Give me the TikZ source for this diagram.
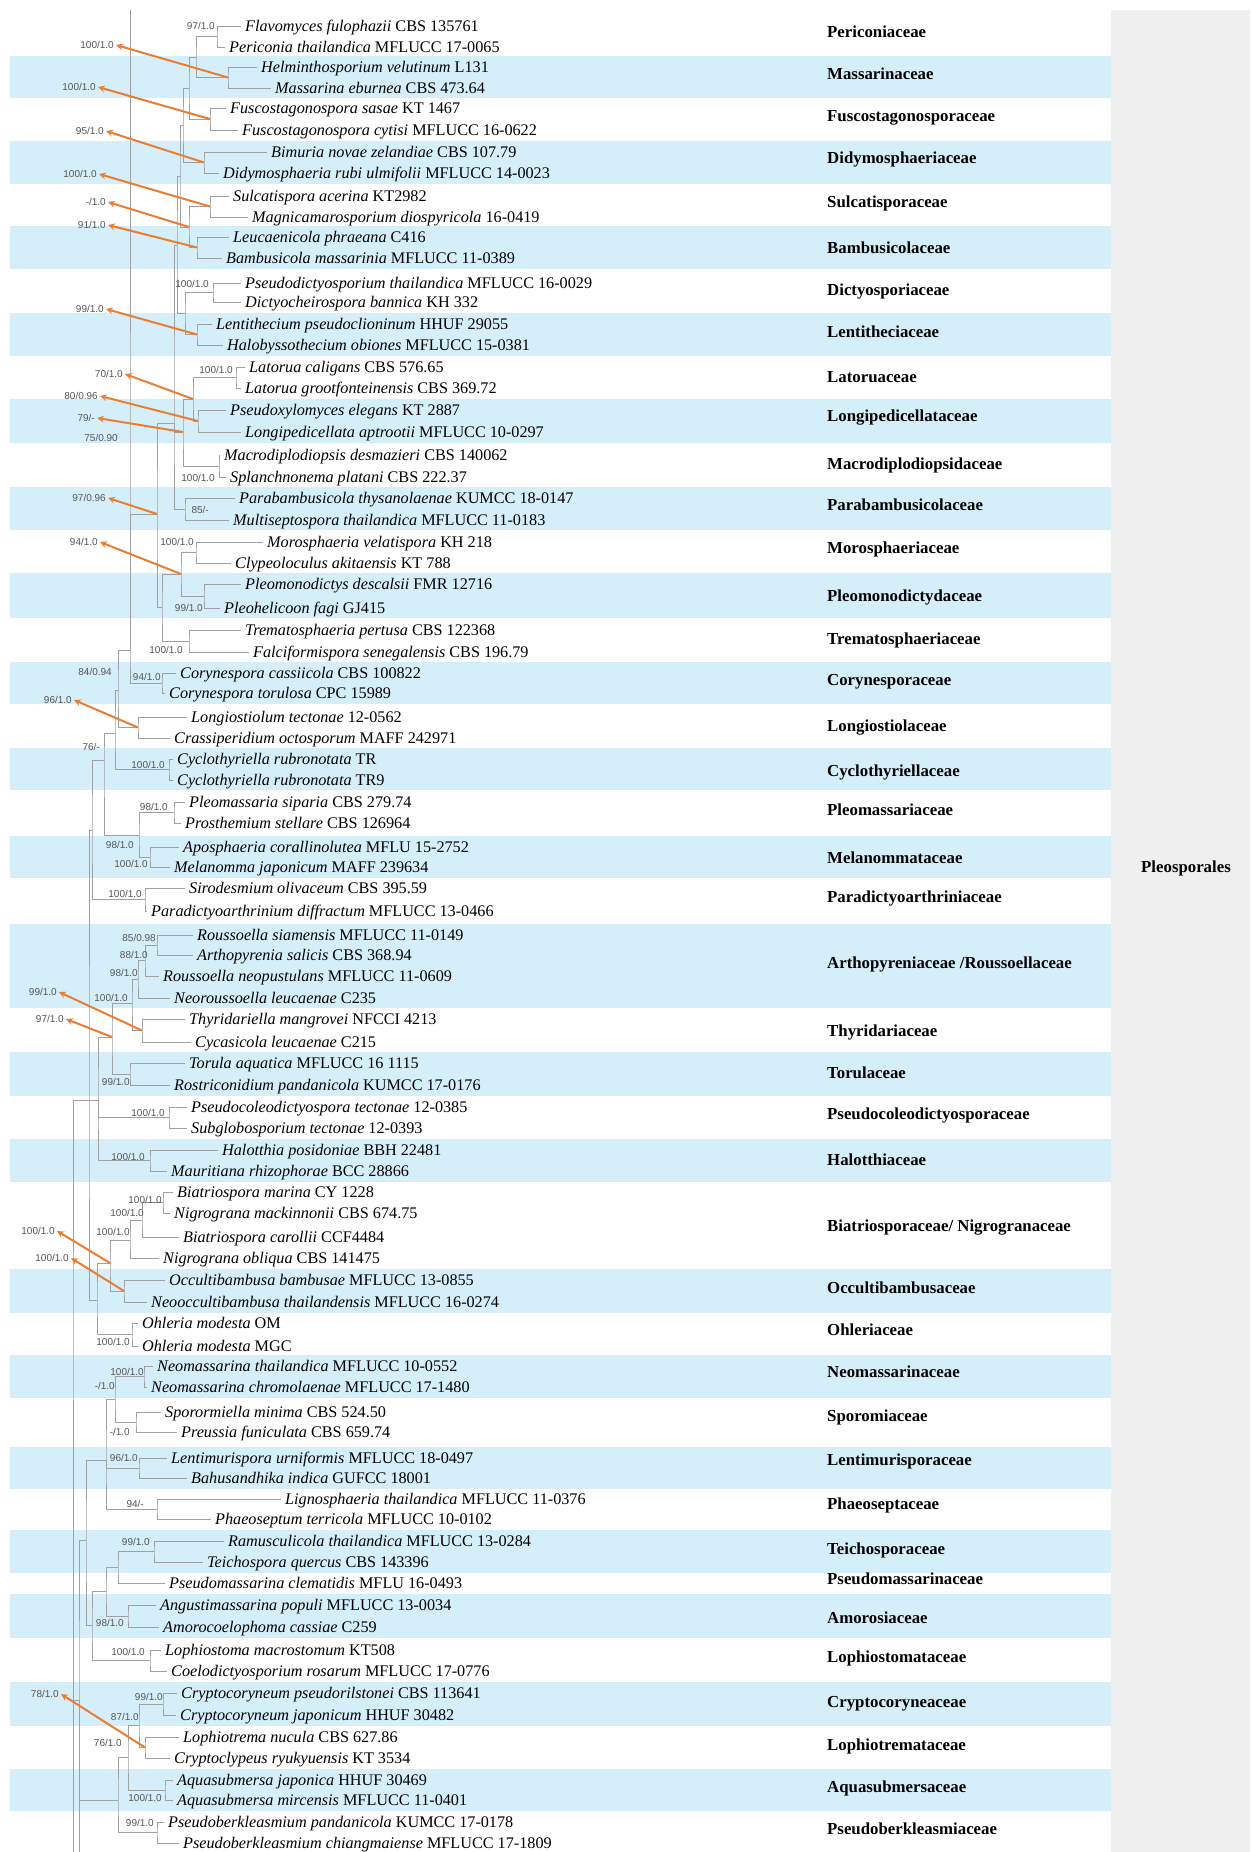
\documentclass[tikz,border=0pt]{standalone}
\usepackage{fontspec}
\setmainfont{Liberation Serif}
\setsansfont{Liberation Sans}
\definecolor{bandblue}{RGB}{213,239,250}
\definecolor{panelgray}{RGB}{239,239,239}
\definecolor{treegray}{RGB}{160,160,160}
\definecolor{supgray}{RGB}{85,85,85}
\definecolor{arrorange}{RGB}{235,125,50}
\begin{document}
\begin{tikzpicture}[x=1pt,y=-1pt,>=stealth,
	taxon/.style={anchor=west,inner xsep=4pt,inner ysep=0pt,text height=14pt,text depth=3.5pt,font=\fontsize{16.2}{18}\selectfont},
	fam/.style={anchor=west,inner sep=0pt,text height=10pt,text depth=1.5pt,font=\fontsize{16.8}{19}\selectfont\bfseries},
	sup/.style={anchor=east,inner xsep=2pt,inner ysep=0pt,text height=7pt,text depth=0pt,text=supgray,font=\sffamily\fontsize{10}{11}\selectfont},
	band/.style={fill=bandblue},
	branch/.style={draw=treegray,line width=0.8pt},
	pointer/.style={->,draw=arrorange,line width=2pt}]
	\useasboundingbox (0,0) rectangle (1250,1852);
	\fill[panelgray] (1111,10) rectangle (1250,1852);
	\fill[band] (10,56) rectangle (1111,98);
	\fill[band] (10,141) rectangle (1111,184);
	\fill[band] (10,226) rectangle (1111,269);
	\fill[band] (10,313) rectangle (1111,356);
	\fill[band] (10,399) rectangle (1111,443);
	\fill[band] (10,487) rectangle (1111,530);
	\fill[band] (10,573) rectangle (1111,618);
	\fill[band] (10,662) rectangle (1111,704);
	\fill[band] (10,748) rectangle (1111,790);
	\fill[band] (10,836) rectangle (1111,878);
	\fill[band] (10,924) rectangle (1111,1008);
	\fill[band] (10,1052) rectangle (1111,1096);
	\fill[band] (10,1139) rectangle (1111,1182);
	\fill[band] (10,1269) rectangle (1111,1313);
	\fill[band] (10,1355) rectangle (1111,1398);
	\fill[band] (10,1447) rectangle (1111,1489);
	\fill[band] (10,1530) rectangle (1111,1573);
	\fill[band] (10,1594) rectangle (1111,1638);
	\fill[band] (10,1682) rectangle (1111,1726);
	\fill[band] (10,1769) rectangle (1111,1811);

	\node[taxon] (t1) at (241,26) {\textit{Flavomyces fulophazii} CBS 135761};
	\node[taxon] (t2) at (225,47) {\textit{Periconia thailandica} MFLUCC 17-0065};
	\node[taxon] (t3) at (257,67) {\textit{Helminthosporium velutinum} L131};
	\node[taxon] (t4) at (271,88) {\textit{Massarina eburnea} CBS 473.64};
	\node[taxon] (t5) at (226,108) {\textit{Fuscostagonospora sasae} KT 1467};
	\node[taxon] (t6) at (238,130) {\textit{Fuscostagonospora cytisi} MFLUCC 16-0622};
	\node[taxon] (t7) at (267,152) {\textit{Bimuria novae zelandiae} CBS 107.79};
	\node[taxon] (t8) at (219,173) {\textit{Didymosphaeria rubi ulmifolii} MFLUCC 14-0023};
	\node[taxon] (t9) at (229,196) {\textit{Sulcatispora acerina} KT2982};
	\node[taxon] (t10) at (248,217) {\textit{Magnicamarosporium diospyricola} 16-0419};
	\node[taxon] (t11) at (229,237) {\textit{Leucaenicola phraeana} C416};
	\node[taxon] (t12) at (222,258) {\textit{Bambusicola massarinia} MFLUCC 11-0389};
	\node[taxon] (t13) at (241,283) {\textit{Pseudodictyosporium thailandica} MFLUCC 16-0029};
	\node[taxon] (t14) at (241,302) {\textit{Dictyocheirospora bannica} KH 332};
	\node[taxon] (t15) at (212,324) {\textit{Lentithecium pseudoclioninum} HHUF 29055};
	\node[taxon] (t16) at (223,345) {\textit{Halobyssothecium obiones} MFLUCC 15-0381};
	\node[taxon] (t17) at (245,367) {\textit{Latorua caligans} CBS 576.65};
	\node[taxon] (t18) at (241,388) {\textit{Latorua grootfonteinensis} CBS 369.72};
	\node[taxon] (t19) at (226,410) {\textit{Pseudoxylomyces elegans} KT 2887};
	\node[taxon] (t20) at (241,432) {\textit{Longipedicellata aptrootii} MFLUCC 10-0297};
	\node[taxon] (t21) at (220,455) {\textit{Macrodiplodiopsis desmazieri} CBS 140062};
	\node[taxon] (t22) at (226,477) {\textit{Splanchnonema platani} CBS 222.37};
	\node[taxon] (t23) at (235,498) {\textit{Parabambusicola thysanolaenae} KUMCC 18-0147};
	\node[taxon] (t24) at (229,520) {\textit{Multiseptospora thailandica} MFLUCC 11-0183};
	\node[taxon] (t25) at (263,542) {\textit{Morosphaeria velatispora} KH 218};
	\node[taxon] (t26) at (231,563) {\textit{Clypeoloculus akitaensis} KT 788};
	\node[taxon] (t27) at (241,584) {\textit{Pleomonodictys descalsii} FMR 12716};
	\node[taxon] (t28) at (220,608) {\textit{Pleohelicoon fagi} GJ415};
	\node[taxon] (t29) at (241,630) {\textit{Trematosphaeria pertusa} CBS 122368};
	\node[taxon] (t30) at (249,652) {\textit{Falciformispora senegalensis} CBS 196.79};
	\node[taxon] (t31) at (176,673) {\textit{Corynespora cassiicola} CBS 100822};
	\node[taxon] (t32) at (165,693) {\textit{Corynespora torulosa} CPC 15989};
	\node[taxon] (t33) at (187,717) {\textit{Longiostiolum tectonae} 12-0562};
	\node[taxon] (t34) at (170,738) {\textit{Crassiperidium octosporum} MAFF 242971};
	\node[taxon] (t35) at (173,759) {\textit{Cyclothyriella rubronotata} TR};
	\node[taxon] (t36) at (173,780) {\textit{Cyclothyriella rubronotata} TR9};
	\node[taxon] (t37) at (185,802) {\textit{Pleomassaria siparia} CBS 279.74};
	\node[taxon] (t38) at (181,823) {\textit{Prosthemium stellare} CBS 126964};
	\node[taxon] (t39) at (179,847) {\textit{Aposphaeria corallinolutea} MFLU 15-2752};
	\node[taxon] (t40) at (170,867) {\textit{Melanomma japonicum} MAFF 239634};
	\node[taxon] (t41) at (185,888) {\textit{Sirodesmium olivaceum} CBS 395.59};
	\node[taxon] (t42) at (147,911) {\textit{Paradictyoarthrinium diffractum} MFLUCC 13-0466};
	\node[taxon] (t43) at (193,935) {\textit{Roussoella siamensis} MFLUCC 11-0149};
	\node[taxon] (t44) at (193,955) {\textit{Arthopyrenia salicis} CBS 368.94};
	\node[taxon] (t45) at (159,976) {\textit{Roussoella neopustulans} MFLUCC 11-0609};
	\node[taxon] (t46) at (170,998) {\textit{Neoroussoella leucaenae} C235};
	\node[taxon] (t47) at (185,1019) {\textit{Thyridariella mangrovei} NFCCI 4213};
	\node[taxon] (t48) at (191,1042) {\textit{Cycasicola leucaenae} C215};
	\node[taxon] (t49) at (185,1063) {\textit{Torula aquatica} MFLUCC 16 1115};
	\node[taxon] (t50) at (170,1085) {\textit{Rostriconidium pandanicola} KUMCC 17-0176};
	\node[taxon] (t51) at (187,1107) {\textit{Pseudocoleodictyospora tectonae} 12-0385};
	\node[taxon] (t52) at (187,1128) {\textit{Subglobosporium tectonae} 12-0393};
	\node[taxon] (t53) at (218,1150) {\textit{Halotthia posidoniae} BBH 22481};
	\node[taxon] (t54) at (167,1171) {\textit{Mauritiana rhizophorae} BCC 28866};
	\node[taxon] (t55) at (173,1192) {\textit{Biatriospora marina} CY 1228};
	\node[taxon] (t56) at (170,1213) {\textit{Nigrograna mackinnonii} CBS 674.75};
	\node[taxon] (t57) at (179,1237) {\textit{Biatriospora carollii} CCF4484};
	\node[taxon] (t58) at (159,1258) {\textit{Nigrograna obliqua} CBS 141475};
	\node[taxon] (t59) at (165,1280) {\textit{Occultibambusa bambusae} MFLUCC 13-0855};
	\node[taxon] (t60) at (147,1302) {\textit{Neooccultibambusa thailandensis} MFLUCC 16-0274};
	\node[taxon] (t61) at (138,1323) {\textit{Ohleria modesta} OM};
	\node[taxon] (t62) at (138,1346) {\textit{Ohleria modesta} MGC};
	\node[taxon] (t63) at (153,1366) {\textit{Neomassarina thailandica} MFLUCC 10-0552};
	\node[taxon] (t64) at (147,1387) {\textit{Neomassarina chromolaenae} MFLUCC 17-1480};
	\node[taxon] (t65) at (161,1412) {\textit{Sporormiella minima} CBS 524.50};
	\node[taxon] (t66) at (177,1432) {\textit{Preussia funiculata} CBS 659.74};
	\node[taxon] (t67) at (167,1458) {\textit{Lentimurispora urniformis} MFLUCC 18-0497};
	\node[taxon] (t68) at (187,1478) {\textit{Bahusandhika indica} GUFCC 18001};
	\node[taxon] (t69) at (281,1499) {\textit{Lignosphaeria thailandica} MFLUCC 11-0376};
	\node[taxon] (t70) at (211,1519) {\textit{Phaeoseptum terricola} MFLUCC 10-0102};
	\node[taxon] (t71) at (224,1541) {\textit{Ramusculicola thailandica} MFLUCC 13-0284};
	\node[taxon] (t72) at (203,1562) {\textit{Teichospora quercus} CBS 143396};
	\node[taxon] (t73) at (165,1583) {\textit{Pseudomassarina clematidis} MFLU 16-0493};
	\node[taxon] (t74) at (156,1605) {\textit{Angustimassarina populi} MFLUCC 13-0034};
	\node[taxon] (t75) at (159,1627) {\textit{Amorocoelophoma cassiae} C259};
	\node[taxon] (t76) at (161,1650) {\textit{Lophiostoma macrostomum} KT508};
	\node[taxon] (t77) at (167,1671) {\textit{Coelodictyosporium rosarum} MFLUCC 17-0776};
	\node[taxon] (t78) at (177,1693) {\textit{Cryptocoryneum pseudorilstonei} CBS 113641};
	\node[taxon] (t79) at (176,1715) {\textit{Cryptocoryneum japonicum} HHUF 30482};
	\node[taxon] (t80) at (179,1737) {\textit{Lophiotrema nucula} CBS 627.86};
	\node[taxon] (t81) at (170,1758) {\textit{Cryptoclypeus ryukyuensis} KT 3534};
	\node[taxon] (t82) at (173,1780) {\textit{Aquasubmersa japonica} HHUF 30469};
	\node[taxon] (t83) at (173,1800) {\textit{Aquasubmersa mircensis} MFLUCC 11-0401};
	\node[taxon] (t84) at (164,1822) {\textit{Pseudoberkleasmium pandanicola} KUMCC 17-0178};
	\node[taxon] (t85) at (179,1843) {\textit{Pseudoberkleasmium chiangmaiense} MFLUCC 17-1809};

	\coordinate (P1) at (217,36.5);
	\coordinate (M1) at (228,77.5);
	\coordinate (PM) at (196,57);
	\coordinate (F1) at (210,119);
	\coordinate (X1) at (189,88);
	\coordinate (D1) at (204,162.5);
	\coordinate (X2) at (183,125);
	\coordinate (S1) at (210,206.5);
	\coordinate (B1) at (197,247.5);
	\coordinate (SB) at (189,227);
	\coordinate (X3) at (180,176);
	\coordinate (Dy1) at (213,292.5);
	\coordinate (L1) at (197,334.5);
	\coordinate (DL) at (185,313.5);
	\coordinate (X4) at (177,245);
	\coordinate (La1) at (236,377.5);
	\coordinate (Lo1) at (198,421);
	\coordinate (N63) at (193,399);
	\coordinate (Ma1) at (219,466);
	\coordinate (N79) at (183,432);
	\coordinate (Pa1) at (185,509);
	\coordinate (X5) at (174,423);
	\coordinate (Mo1) at (196,552.5);
	\coordinate (Pm1) at (204,596);
	\coordinate (MoPm) at (181,574);
	\coordinate (Tr1) at (189,641);
	\coordinate (N137) at (162,607);
	\coordinate (N133) at (157,514);
	\coordinate (Co1) at (162,683);
	\coordinate (top) at (130,10);
	\coordinate (N110) at (130,650);
	\coordinate (Lg1) at (138,727.5);
	\coordinate (N100) at (118,690);
	\coordinate (Cy1) at (169,769.5);
	\coordinate (N97) at (115,733);
	\coordinate (Pl1) at (174,812.5);
	\coordinate (Me1) at (150,857);
	\coordinate (PlMe) at (139,835);
	\coordinate (N88) at (104,760);
	\coordinate (Si1) at (145,899.5);
	\coordinate (N78) at (92,830);
	\coordinate (R1) at (157,945);
	\coordinate (R2) at (145,960.5);
	\coordinate (R3) at (138,979);
	\coordinate (Th1) at (142,1030.5);
	\coordinate (RT) at (132,1003);
	\coordinate (To1) at (130,1074);
	\coordinate (N95) at (112,1037);
	\coordinate (Ps1) at (169,1117.5);
	\coordinate (Ha1) at (150,1160.5);
	\coordinate (N83) at (98,1100);
	\coordinate (Bi1) at (163,1202.5);
	\coordinate (Bi2) at (142,1220);
	\coordinate (Bi3) at (130,1240);
	\coordinate (Oc1) at (124,1291);
	\coordinate (BO) at (110,1263);
	\coordinate (Oh1) at (132,1334.5);
	\coordinate (N82) at (97,1300);
	\coordinate (N75) at (89,1100);
	\coordinate (Ne1) at (144,1376.5);
	\coordinate (Sp1) at (136,1422);
	\coordinate (N97b) at (115,1399);
	\coordinate (Le1) at (139,1468);
	\coordinate (Ph1) at (157,1509);
	\coordinate (N90) at (106,1460);
	\coordinate (Te1) at (154,1551.5);
	\coordinate (TeP) at (118,1567);
	\coordinate (Am1) at (128,1616);
	\coordinate (N90b) at (106,1591);
	\coordinate (Lp1) at (150,1660.5);
	\coordinate (N78b) at (92,1625);
	\coordinate (N73) at (86,1540);
	\coordinate (Cr1) at (163,1704);
	\coordinate (Lt1) at (145,1747.5);
	\coordinate (Cr2) at (139,1725);
	\coordinate (Aq1) at (165,1790);
	\coordinate (N108) at (128,1757);
	\coordinate (Pb1) at (157,1832.5);
	\coordinate (N100b) at (118,1800);
	\coordinate (N67) at (79,1700);
	\coordinate (endA) at (79,1852);
	\coordinate (N62) at (73,1400);
	\coordinate (endB) at (73,1852);

	\draw[branch] (t1.west) -| (P1) |- (t2.west);
	\draw[branch] (t3.west) -| (M1) |- (t4.west);
	\draw[branch] (P1) -| (PM) |- (M1);
	\draw[branch] (t5.west) -| (F1) |- (t6.west);
	\draw[branch] (PM) -| (X1) |- (F1);
	\draw[branch] (t7.west) -| (D1) |- (t8.west);
	\draw[branch] (X1) -| (X2) |- (D1);
	\draw[branch] (t9.west) -| (S1) |- (t10.west);
	\draw[branch] (t11.west) -| (B1) |- (t12.west);
	\draw[branch] (S1) -| (SB) |- (B1);
	\draw[branch] (X2) -| (X3) |- (SB);
	\draw[branch] (t13.west) -| (Dy1) |- (t14.west);
	\draw[branch] (t15.west) -| (L1) |- (t16.west);
	\draw[branch] (Dy1) -| (DL) |- (L1);
	\draw[branch] (X3) -| (X4) |- (DL);
	\draw[branch] (t17.west) -| (La1) |- (t18.west);
	\draw[branch] (t19.west) -| (Lo1) |- (t20.west);
	\draw[branch] (La1) -| (N63) |- (Lo1);
	\draw[branch] (t21.west) -| (Ma1) |- (t22.west);
	\draw[branch] (N63) -| (N79) |- (Ma1);
	\draw[branch] (t23.west) -| (Pa1) |- (t24.west);
	\draw[branch] (X4) -| (X5) |- (Pa1) (X5) |- (N79);
	\draw[branch] (t25.west) -| (Mo1) |- (t26.west);
	\draw[branch] (t27.west) -| (Pm1) |- (t28.west);
	\draw[branch] (Mo1) -| (MoPm) |- (Pm1);
	\draw[branch] (t29.west) -| (Tr1) |- (t30.west);
	\draw[branch] (MoPm) -| (N137) |- (Tr1);
	\draw[branch] (X5) -| (N133) |- (N137);
	\draw[branch] (t31.west) -| (Co1) |- (t32.west);
	\draw[branch] (top) -| (N110) |- (Co1) (N110) |- (N133);
	\draw[branch] (t33.west) -| (Lg1) |- (t34.west);
	\draw[branch] (N110) -| (N100) |- (Lg1);
	\draw[branch] (t35.west) -| (Cy1) |- (t36.west);
	\draw[branch] (N100) -| (N97) |- (Cy1);
	\draw[branch] (t37.west) -| (Pl1) |- (t38.west);
	\draw[branch] (t39.west) -| (Me1) |- (t40.west);
	\draw[branch] (Pl1) -| (PlMe) |- (Me1);
	\draw[branch] (N97) -| (N88) |- (PlMe);
	\draw[branch] (t41.west) -| (Si1) |- (t42.west);
	\draw[branch] (N88) -| (N78) |- (Si1);
	\draw[branch] (t43.west) -| (R1) |- (t44.west);
	\draw[branch] (R1) -| (R2) |- (t45.west);
	\draw[branch] (R2) -| (R3) |- (t46.west);
	\draw[branch] (t47.west) -| (Th1) |- (t48.west);
	\draw[branch] (R3) -| (RT) |- (Th1);
	\draw[branch] (t49.west) -| (To1) |- (t50.west);
	\draw[branch] (RT) -| (N95) |- (To1);
	\draw[branch] (t51.west) -| (Ps1) |- (t52.west);
	\draw[branch] (t53.west) -| (Ha1) |- (t54.west);
	\draw[branch] (N95) -| (N83) |- (Ha1) (N83) |- (Ps1);
	\draw[branch] (t55.west) -| (Bi1) |- (t56.west);
	\draw[branch] (Bi1) -| (Bi2) |- (t57.west);
	\draw[branch] (Bi2) -| (Bi3) |- (t58.west);
	\draw[branch] (t59.west) -| (Oc1) |- (t60.west);
	\draw[branch] (Bi3) -| (BO) |- (Oc1);
	\draw[branch] (t61.west) -| (Oh1) |- (t62.west);
	\draw[branch] (BO) -| (N82) |- (Oh1);
	\draw[branch] (N78) -| (N75) |- (N82) (N75) |- (N83);
	\draw[branch] (t63.west) -| (Ne1) |- (t64.west);
	\draw[branch] (t65.west) -| (Sp1) |- (t66.west);
	\draw[branch] (Ne1) -| (N97b) |- (Sp1);
	\draw[branch] (t67.west) -| (Le1) |- (t68.west);
	\draw[branch] (t69.west) -| (Ph1) |- (t70.west);
	\draw[branch] (N97b) -| (N90) |- (Ph1) (N90) |- (Le1);
	\draw[branch] (t71.west) -| (Te1) |- (t72.west);
	\draw[branch] (Te1) -| (TeP) |- (t73.west);
	\draw[branch] (t74.west) -| (Am1) |- (t75.west);
	\draw[branch] (TeP) -| (N90b) |- (Am1);
	\draw[branch] (t76.west) -| (Lp1) |- (t77.west);
	\draw[branch] (N90b) -| (N78b) |- (Lp1);
	\draw[branch] (N90) -| (N73) |- (N78b);
	\draw[branch] (t78.west) -| (Cr1) |- (t79.west);
	\draw[branch] (t80.west) -| (Lt1) |- (t81.west);
	\draw[branch] (Cr1) -| (Cr2) |- (Lt1);
	\draw[branch] (t82.west) -| (Aq1) |- (t83.west);
	\draw[branch] (Cr2) -| (N108) |- (Aq1);
	\draw[branch] (t84.west) -| (Pb1) |- (t85.west);
	\draw[branch] (N108) -| (N100b) |- (Pb1);
	\draw[branch] (N73) -| (N67) |- (N100b) (N67) |- (endA);
	\draw[branch] (N75) -| (N62) |- (N67) (N62) |- (endB);

	\node[sup] (sP1) at (217,26) {97/1.0};
	\node[sup] (sDy1) at (211,284) {100/1.0};
	\node[sup] (sLa1) at (235,370) {100/1.0};
	\node[sup] (sMa1) at (217,478) {100/1.0};
	\node[sup] (sPa1) at (211,510) {85/-};
	\node[sup] (sX5) at (120,438) {75/0.90};
	\node[sup] (sMo1) at (196,542) {100/1.0};
	\node[sup] (sPm1) at (205,608) {99/1.0};
	\node[sup] (sTr1) at (185,650) {100/1.0};
	\node[sup] (sCo1) at (163,677) {94/1.0};
	\node[sup] (sN100) at (114,672) {84/0.94};
	\node[sup] (sCy1) at (167,765) {100/1.0};
	\node[sup] (sN88) at (102,747) {76/-};
	\node[sup] (sPl1) at (170,807) {98/1.0};
	\node[sup] (sPlMe) at (136,845) {98/1.0};
	\node[sup] (sMe1) at (150,864) {100/1.0};
	\node[sup] (sSi1) at (144,894) {100/1.0};
	\node[sup] (sR1) at (158,938) {85/0.98};
	\node[sup] (sR2) at (150,955) {88/1.0};
	\node[sup] (sR3) at (140,973) {98/1.0};
	\node[sup] (sRT) at (130,998) {100/1.0};
	\node[sup] (sTo1) at (132,1082) {99/1.0};
	\node[sup] (sPs1) at (167,1113) {100/1.0};
	\node[sup] (sHa1) at (147,1157) {100/1.0};
	\node[sup] (sBi1) at (164,1200) {100/1.0};
	\node[sup] (sBi2) at (146,1213) {100/1.0};
	\node[sup] (sBi3) at (132,1232) {100/1.0};
	\node[sup] (sOh1) at (132,1342) {100/1.0};
	\node[sup] (sNe1) at (146,1372) {100/1.0};
	\node[sup] (sN97b) at (117,1386) {-/1.0};
	\node[sup] (sSp1) at (132,1432) {-/1.0};
	\node[sup] (sLe1) at (140,1458) {96/1.0};
	\node[sup] (sPh1) at (146,1504) {94/-};
	\node[sup] (sTe1) at (152,1542) {99/1.0};
	\node[sup] (sAm1) at (126,1623) {98/1.0};
	\node[sup] (sLp1) at (147,1652) {100/1.0};
	\node[sup] (sCr1) at (165,1697) {99/1.0};
	\node[sup] (sCr2) at (141,1717) {87/1.0};
	\node[sup] (sN108) at (124,1743) {76/1.0};
	\node[sup] (sAq1) at (164,1798) {100/1.0};
	\node[sup] (sPb1) at (156,1823) {99/1.0};

	\node[sup] (aM1) at (116,45) {100/1.0};
	\node[sup] (aF1) at (98,87) {100/1.0};
	\node[sup] (aD1) at (106,131) {95/1.0};
	\node[sup] (aS1) at (99,174) {100/1.0};
	\node[sup] (aSB) at (108,202) {-/1.0};
	\node[sup] (aB1) at (108,225) {91/1.0};
	\node[sup] (aL1) at (106,309) {99/1.0};
	\node[sup] (aN63) at (125,374) {70/1.0};
	\node[sup] (aLo1) at (100,396) {80/0.96};
	\node[sup] (aN79) at (97,418) {79/-};
	\node[sup] (aN133) at (108,498) {97/0.96};
	\node[sup] (aMoPm) at (100,542) {94/1.0};
	\node[sup] (aLg1) at (74,700) {96/1.0};
	\node[sup] (aTh1) at (59,992) {99/1.0};
	\node[sup] (aN95) at (66,1019) {97/1.0};
	\node[sup] (aBO) at (57,1231) {100/1.0};
	\node[sup] (aOc1) at (71,1258) {100/1.0};
	\node[sup] (aLt1) at (61,1694) {78/1.0};
	\draw[pointer] (M1) -- (aM1.east);
	\draw[pointer] (F1) -- (aF1.east);
	\draw[pointer] (D1) -- (aD1.east);
	\draw[pointer] (S1) -- (aS1.east);
	\draw[pointer] (SB) -- (aSB.east);
	\draw[pointer] (B1) -- (aB1.east);
	\draw[pointer] (L1) -- (aL1.east);
	\draw[pointer] (N63) -- (aN63.east);
	\draw[pointer] (Lo1) -- (aLo1.east);
	\draw[pointer] (N79) -- (aN79.east);
	\draw[pointer] (N133) -- (aN133.east);
	\draw[pointer] (MoPm) -- (aMoPm.east);
	\draw[pointer] (Lg1) -- (aLg1.east);
	\draw[pointer] (Th1) -- (aTh1.east);
	\draw[pointer] (N95) -- (aN95.east);
	\draw[pointer] (BO) -- (aBO.east);
	\draw[pointer] (Oc1) -- (aOc1.east);
	\draw[pointer] (Lt1) -- (aLt1.east);

	\node[fam] (fPeri) at (827,33) {Periconiaceae};
	\node[fam] (fMass) at (827,75) {Massarinaceae};
	\node[fam] (fFusc) at (827,117) {Fuscostagonosporaceae};
	\node[fam] (fDidy) at (827,159) {Didymosphaeriaceae};
	\node[fam] (fSulc) at (827,203) {Sulcatisporaceae};
	\node[fam] (fBamb) at (827,249) {Bambusicolaceae};
	\node[fam] (fDict) at (827,291) {Dictyosporiaceae};
	\node[fam] (fLent) at (827,333) {Lentitheciaceae};
	\node[fam] (fLato) at (827,378) {Latoruaceae};
	\node[fam] (fLong) at (827,417) {Longipedicellataceae};
	\node[fam] (fMacr) at (827,465) {Macrodiplodiopsidaceae};
	\node[fam] (fPara) at (827,506) {Parabambusicolaceae};
	\node[fam] (fMoro) at (827,549) {Morosphaeriaceae};
	\node[fam] (fPleo) at (827,597) {Pleomonodictydaceae};
	\node[fam] (fTrem) at (827,640) {Trematosphaeriaceae};
	\node[fam] (fCory) at (827,681) {Corynesporaceae};
	\node[fam] (fLgst) at (827,727) {Longiostiolaceae};
	\node[fam] (fCycl) at (827,772) {Cyclothyriellaceae};
	\node[fam] (fPlms) at (827,811) {Pleomassariaceae};
	\node[fam] (fMela) at (827,859) {Melanommataceae};
	\node[fam] (fPard) at (827,898) {Paradictyoarthriniaceae};
	\node[fam] (fArth) at (827,964) {Arthopyreniaceae /Roussoellaceae};
	\node[fam] (fThyr) at (827,1032) {Thyridariaceae};
	\node[fam] (fToru) at (827,1074) {Torulaceae};
	\node[fam] (fPsco) at (827,1115) {Pseudocoleodictyosporaceae};
	\node[fam] (fHalo) at (827,1161) {Halotthiaceae};
	\node[fam] (fBiat) at (827,1227) {Biatriosporaceae/ Nigrogranaceae};
	\node[fam] (fOccu) at (827,1289) {Occultibambusaceae};
	\node[fam] (fOhle) at (827,1331) {Ohleriaceae};
	\node[fam] (fNeom) at (827,1373) {Neomassarinaceae};
	\node[fam] (fSpor) at (827,1417) {Sporomiaceae};
	\node[fam] (fLnmu) at (827,1461) {Lentimurisporaceae};
	\node[fam] (fPhae) at (827,1505) {Phaeoseptaceae};
	\node[fam] (fTeic) at (827,1550) {Teichosporaceae};
	\node[fam] (fPsms) at (827,1580) {Pseudomassarinaceae};
	\node[fam] (fAmor) at (827,1619) {Amorosiaceae};
	\node[fam] (fLoph) at (827,1658) {Lophiostomataceae};
	\node[fam] (fCryp) at (827,1703) {Cryptocoryneaceae};
	\node[fam] (fLptr) at (827,1746) {Lophiotremataceae};
	\node[fam] (fAqua) at (827,1788) {Aquasubmersaceae};
	\node[fam] (fPsbk) at (827,1830) {Pseudoberkleasmiaceae};
	\node[fam] (order) at (1141,868) {Pleosporales};
\end{tikzpicture}
\end{document}
